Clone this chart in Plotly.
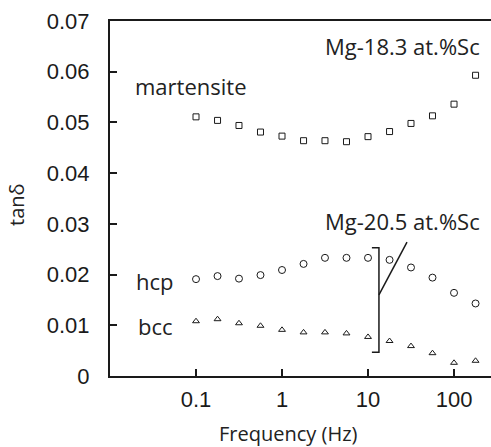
import plotly.graph_objects as go

freq = [0.1, 0.178, 0.316, 0.562, 1, 1.78, 3.16, 5.62, 10, 17.8, 31.6, 56.2, 100, 178]
martensite = [0.0511, 0.0504, 0.0494, 0.0481, 0.0473, 0.0464, 0.0464, 0.0462,
              0.0472, 0.0482, 0.0498, 0.0513, 0.0536, 0.0593]
hcp = [0.0191, 0.0197, 0.0192, 0.0199, 0.0209, 0.0221, 0.0233, 0.0233,
       0.0233, 0.0229, 0.0214, 0.0194, 0.0164, 0.0143]
bcc = [0.0108, 0.0112, 0.0104, 0.0099, 0.0091, 0.0086, 0.0086, 0.0084,
       0.0077, 0.0069, 0.0059, 0.0045, 0.0026, 0.0030]

bracket_x = [11.1, 13.4, 13.4, 11.1]
bracket_y = [0.0253, 0.0253, 0.0047, 0.0047]
pointer_x = [13.4, 28.4]
pointer_y = [0.0160, 0.0264]

x_ticks = [0.1, 1, 10, 100]
x_ticktext = ["0.1", "1", "10", "100"]

INK = "#1a1a1a"
TICKFONT = dict(family="Liberation Sans, Arial, sans-serif", size=22, color=INK)
TEXTFONT = dict(family="Open Sans, sans-serif", size=22, color="#222222")

fig = go.Figure()
fig.add_trace(go.Scatter(x=freq, y=martensite, mode="markers",
                         marker=dict(symbol="square-open", size=6, color=INK, line=dict(width=1, color=INK))))
fig.add_trace(go.Scatter(x=freq, y=hcp, mode="markers",
                         marker=dict(symbol="circle-open", size=7, color=INK, line=dict(width=1, color=INK))))
fig.add_trace(go.Scatter(x=freq, y=bcc, mode="markers",
                         marker=dict(symbol="triangle-up-open", size=6, color=INK, line=dict(width=1, color=INK))))
fig.add_trace(go.Scatter(x=bracket_x, y=bracket_y, mode="lines", line=dict(color=INK, width=1.5)))
fig.add_trace(go.Scatter(x=pointer_x, y=pointer_y, mode="lines", line=dict(color=INK, width=1.5)))

W, H = 491, 447
L, T, B, R = 110, 21, 71, 0
pw, ph = W - L - R, H - T - B

def px(x):
    return (x - L) / pw

def py(y):
    return (H - B - y) / ph

annos = [
    ("martensite", 190.5, 86, 0, TEXTFONT),
    ("Mg-18.3 at.%Sc", 402.5, 46, 0, TEXTFONT),
    ("Mg-20.5 at.%Sc", 402.5, 221, 0, TEXTFONT),
    ("hcp", 155, 281, 0, TEXTFONT),
    ("bcc", 155, 326, 0, TEXTFONT),
    ("Frequency (Hz)", 288, 433, 0, dict(TEXTFONT, size=20)),
    ("tanδ", 16, 205, -90, dict(TEXTFONT, size=20)),
]
for text, x, y, ang, f in annos:
    fig.add_annotation(text=text, xref="paper", yref="paper", x=px(x), y=py(y),
                       xanchor="center", yanchor="middle", showarrow=False,
                       textangle=ang, font=f)

fig.update_layout(
    width=W, height=H,
    margin=dict(l=L, r=R, t=T, b=B),
    paper_bgcolor="white", plot_bgcolor="white",
    showlegend=False,
    xaxis=dict(type="log", range=[-2, 2.43], tickvals=x_ticks, ticktext=x_ticktext,
               ticks="inside", ticklen=7, tickwidth=1.5, tickcolor=INK,
               showline=True, linecolor=INK, linewidth=2, mirror=True,
               showgrid=False, zeroline=False, tickfont=TICKFONT, ticklabelstandoff=3),
    yaxis=dict(range=[0, 0.07], dtick=0.01, tick0=0,
               ticks="inside", ticklen=7, tickwidth=1.5, tickcolor=INK,
               showline=True, linecolor=INK, linewidth=2, mirror=False,
               showgrid=False, zeroline=False, tickfont=TICKFONT, ticklabelstandoff=14),
)

fig.write_html("out.html", config={"displayModeBar": False},
               post_script="document.body.style.margin='0';")
